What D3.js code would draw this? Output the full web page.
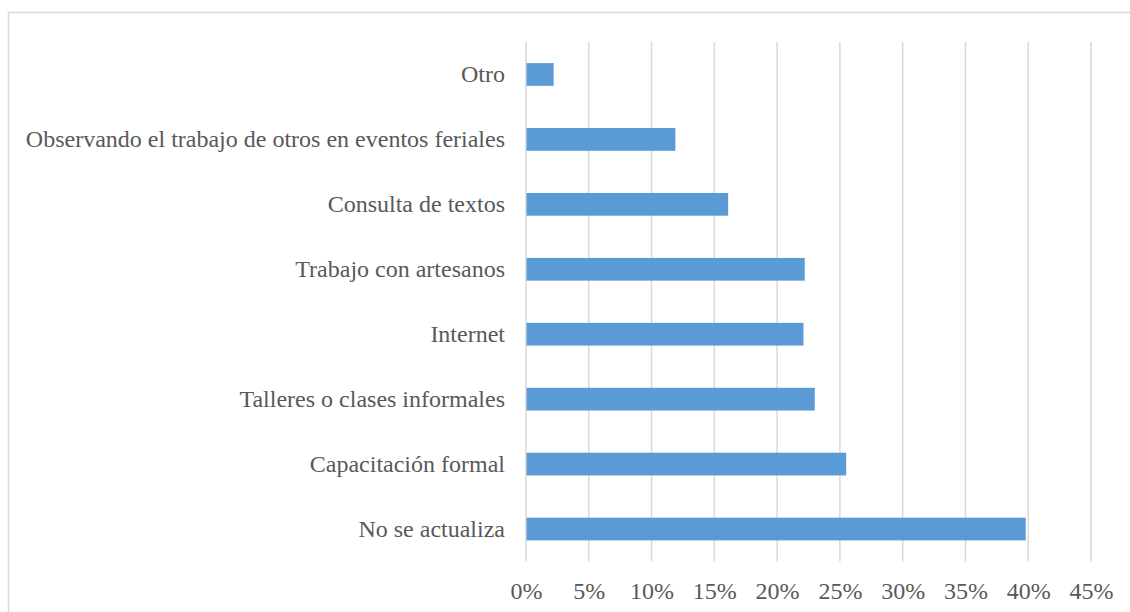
<html>
<head>
<meta charset="utf-8">
<script src="https://cdn.jsdelivr.net/npm/d3@7"></script>
<style>
  body { margin: 0; background: #fff; }
</style>
</head>
<body>
<script>
// data, top to bottom as drawn
var categories = ["Otro",
  "Observando el trabajo de otros en eventos feriales",
  "Consulta de textos",
  "Trabajo con artesanos",
  "Internet",
  "Talleres o clases informales",
  "Capacitación formal",
  "No se actualiza"];
var values = [2.2, 11.9, 16.1, 22.2, 22.1, 23.0, 25.5, 39.8];
var ticks = [0, 5, 10, 15, 20, 25, 30, 35, 40, 45];

var W = 1130, H = 612;
var plot_l = 526, plot_r = 1091, plot_t = 42, plot_b = 561.5;
var FONT = "'Liberation Serif', 'Times New Roman', serif";
var FONT_SIZE = 24;

var svg = d3.select("body").append("svg")
  .attr("width", W).attr("height", H);

// chart border (runs off the right and bottom)
svg.append("rect")
  .attr("x", 8.5).attr("y", 12.5)
  .attr("width", 1140).attr("height", 620)
  .attr("fill", "none").attr("stroke", "#d9d9d9").attr("stroke-width", 1.5);

var x = d3.scaleLinear().domain([0, 45]).range([plot_l, plot_r]);
var y = d3.scaleBand().domain(categories).range([plot_t, plot_b]).paddingInner(0.65).paddingOuter(0.325);

// gridlines
svg.append("g").selectAll("line")
  .data(ticks).enter().append("line")
  .attr("x1", function(d) { return x(d); })
  .attr("x2", function(d) { return x(d); })
  .attr("y1", plot_t).attr("y2", plot_b)
  .attr("stroke", "#d9d9d9").attr("stroke-width", 1.5);

// bars
svg.append("g").selectAll("rect")
  .data(values).enter().append("rect")
  .attr("x", x(0) + 0.5)
  .attr("y", function(d, i) { return y(categories[i]); })
  .attr("width", function(d) { return x(d) - x(0) - 0.5; })
  .attr("height", y.bandwidth())
  .attr("fill", "#5b9bd5");

// category labels
var yAxis = d3.axisLeft(y).tickSize(0).tickPadding(21);
var ga = svg.append("g").attr("transform", "translate(" + plot_l + ",0)").call(yAxis);
ga.select(".domain").remove();
ga.selectAll("text").attr("fill", "#595959")
  .style("font-family", FONT).style("font-size", FONT_SIZE + "px");

// value axis labels
var xAxis = d3.axisBottom(x).tickValues(ticks).tickSize(0).tickPadding(20)
  .tickFormat(function(d) { return d + "%"; });
var gx = svg.append("g").attr("transform", "translate(0," + plot_b + ")").call(xAxis);
gx.select(".domain").remove();
gx.selectAll("text").attr("fill", "#595959")
  .style("font-family", FONT).style("font-size", FONT_SIZE + "px");
</script>
</body>
</html>
